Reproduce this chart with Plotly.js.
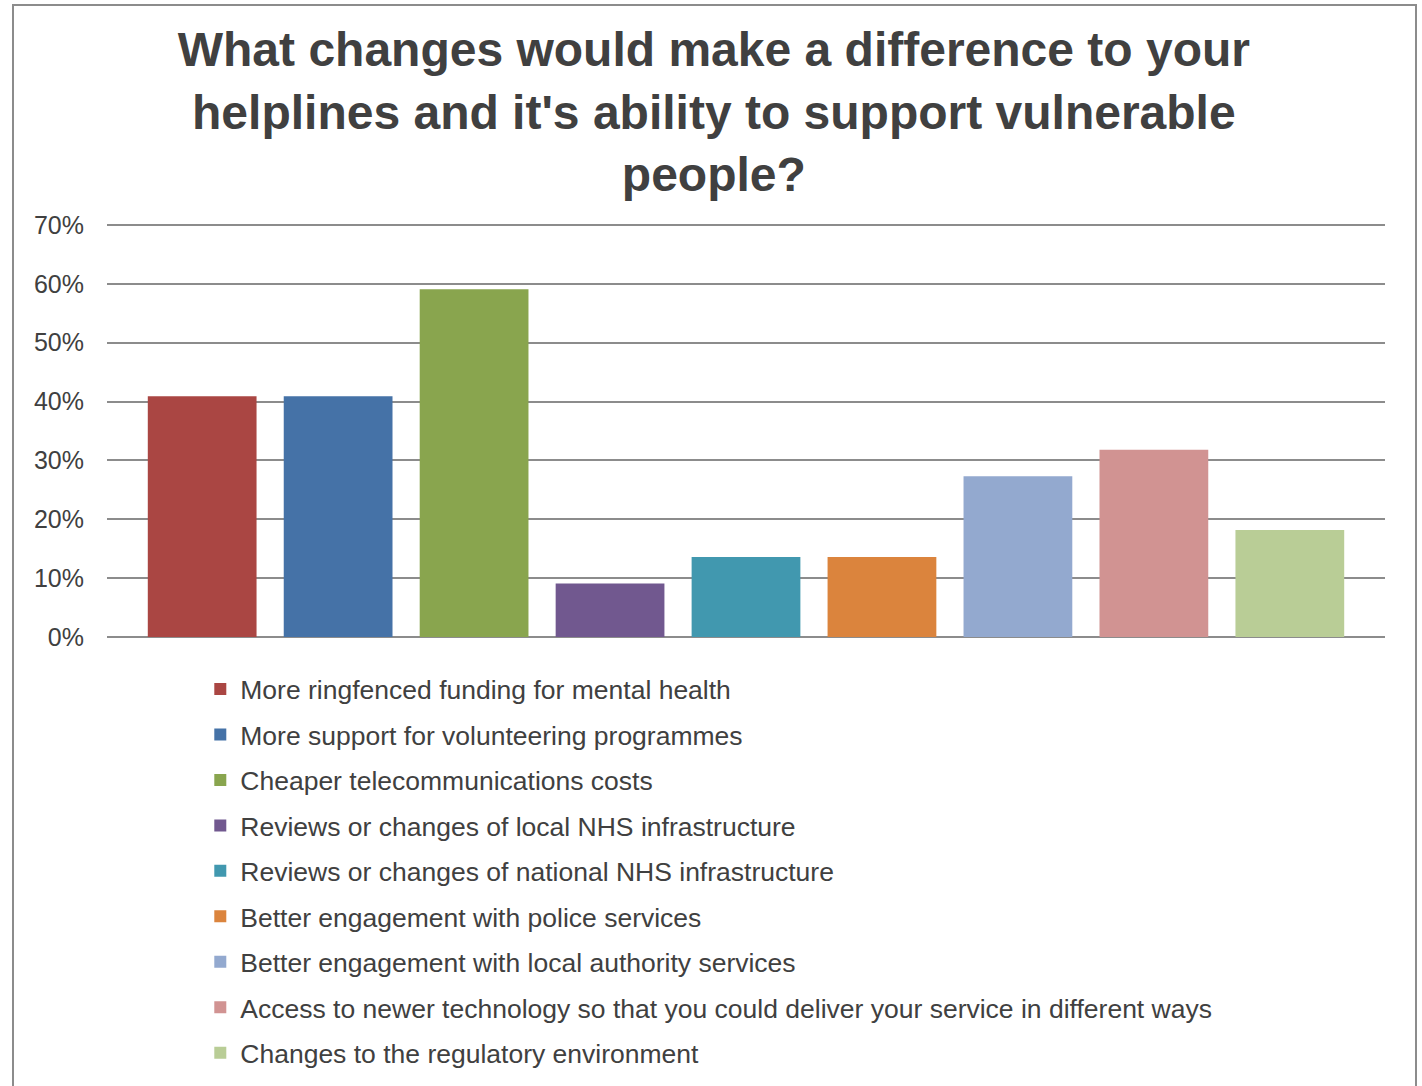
<!DOCTYPE html>
<html>
<head>
<meta charset="utf-8">
<script src="https://cdn.plot.ly/plotly-3.0.1.min.js"></script>
<style>
  html, body { margin: 0; padding: 0; background: #ffffff; overflow: hidden; }
  #chart { position: absolute; left: 0; top: 0; width: 1422px; height: 1086px; }
  #frame { position: absolute; left: 12px; top: 4px; width: 1401px; height: 1100px; border: 2px solid #8c8c8c; pointer-events: none; }
</style>
</head>
<body>
<div id="chart"></div>
<div id="frame"></div>
<script>
const categories = [
  "More ringfenced funding for mental health",
  "More support for volunteering programmes",
  "Cheaper telecommunications costs",
  "Reviews or changes of local NHS infrastructure",
  "Reviews or changes of national NHS infrastructure",
  "Better engagement with police services",
  "Better engagement with local authority services",
  "Access to newer technology so that you could deliver your service in different ways",
  "Changes to the regulatory environment"
];
const values = [0.409, 0.409, 0.591, 0.091, 0.136, 0.136, 0.273, 0.318, 0.182];
const colors = ["#AA4643", "#4572A7", "#89A54E", "#71588F", "#4198AF", "#DB843D", "#93A9CF", "#D19392", "#B9CD96"];
const yTickVals = [0, 0.1, 0.2, 0.3, 0.4, 0.5, 0.6, 0.7];

const traces = categories.map((c, i) => ({
  type: "bar",
  name: c,
  x: [c],
  y: [values[i]],
  marker: { color: colors[i], line: { width: 0 } },
  legendgroup: "g" + i,
  hoverinfo: "name+y"
}));

const gridColor = "#8c8c8c";
const topTick = yTickVals[yTickVals.length - 1];

const layout = {
  width: 1422,
  height: 1086,
  paper_bgcolor: "#ffffff",
  plot_bgcolor: "#ffffff",
  font: { family: "Liberation Sans, Arial, sans-serif", color: "#404040", size: 26 },
  title: {
    text: "What changes would make a difference to your<br>helplines and it's ability to support vulnerable<br>people?",
    font: { family: "Liberation Sans, Arial, sans-serif", size: 48, color: "#404040", weight: "bold" },
    x: 0.502, xanchor: "center",
    y: 0.939, yanchor: "middle"
  },
  margin: { l: 107, r: 37, t: 225, b: 449, autoexpand: false },
  barmode: "relative",
  bargap: 0.2,
  showlegend: true,
  legend: {
    orientation: "v",
    x: 0.073, xanchor: "left",
    y: -0.0687, yanchor: "top",
    traceorder: "grouped",
    tracegroupgap: 8.0,
    font: { size: 26.5, color: "#404040" },
    bgcolor: "rgba(0,0,0,0)"
  },
  xaxis: {
    type: "category",
    range: [-0.7, 8.7],
    showticklabels: false,
    showgrid: false,
    zeroline: false,
    showline: false,
    ticks: ""
  },
  yaxis: {
    range: [0, topTick],
    tickvals: yTickVals,
    tickformat: ".0%",
    ticks: "",
    showgrid: true,
    gridcolor: gridColor,
    gridwidth: 2,
    zeroline: true,
    zerolinecolor: gridColor,
    zerolinewidth: 2,
    showline: false,
    ticklabelstandoff: 22,
    tickfont: { size: 25, color: "#404040" }
  },
  shapes: [{
    type: "line", layer: "below",
    xref: "paper", x0: 0, x1: 1,
    yref: "paper", y0: 1, y1: 1,
    line: { color: gridColor, width: 2 }
  }]
};

Plotly.newPlot("chart", traces, layout, { displayModeBar: false, staticPlot: true });
</script>
</body>
</html>
